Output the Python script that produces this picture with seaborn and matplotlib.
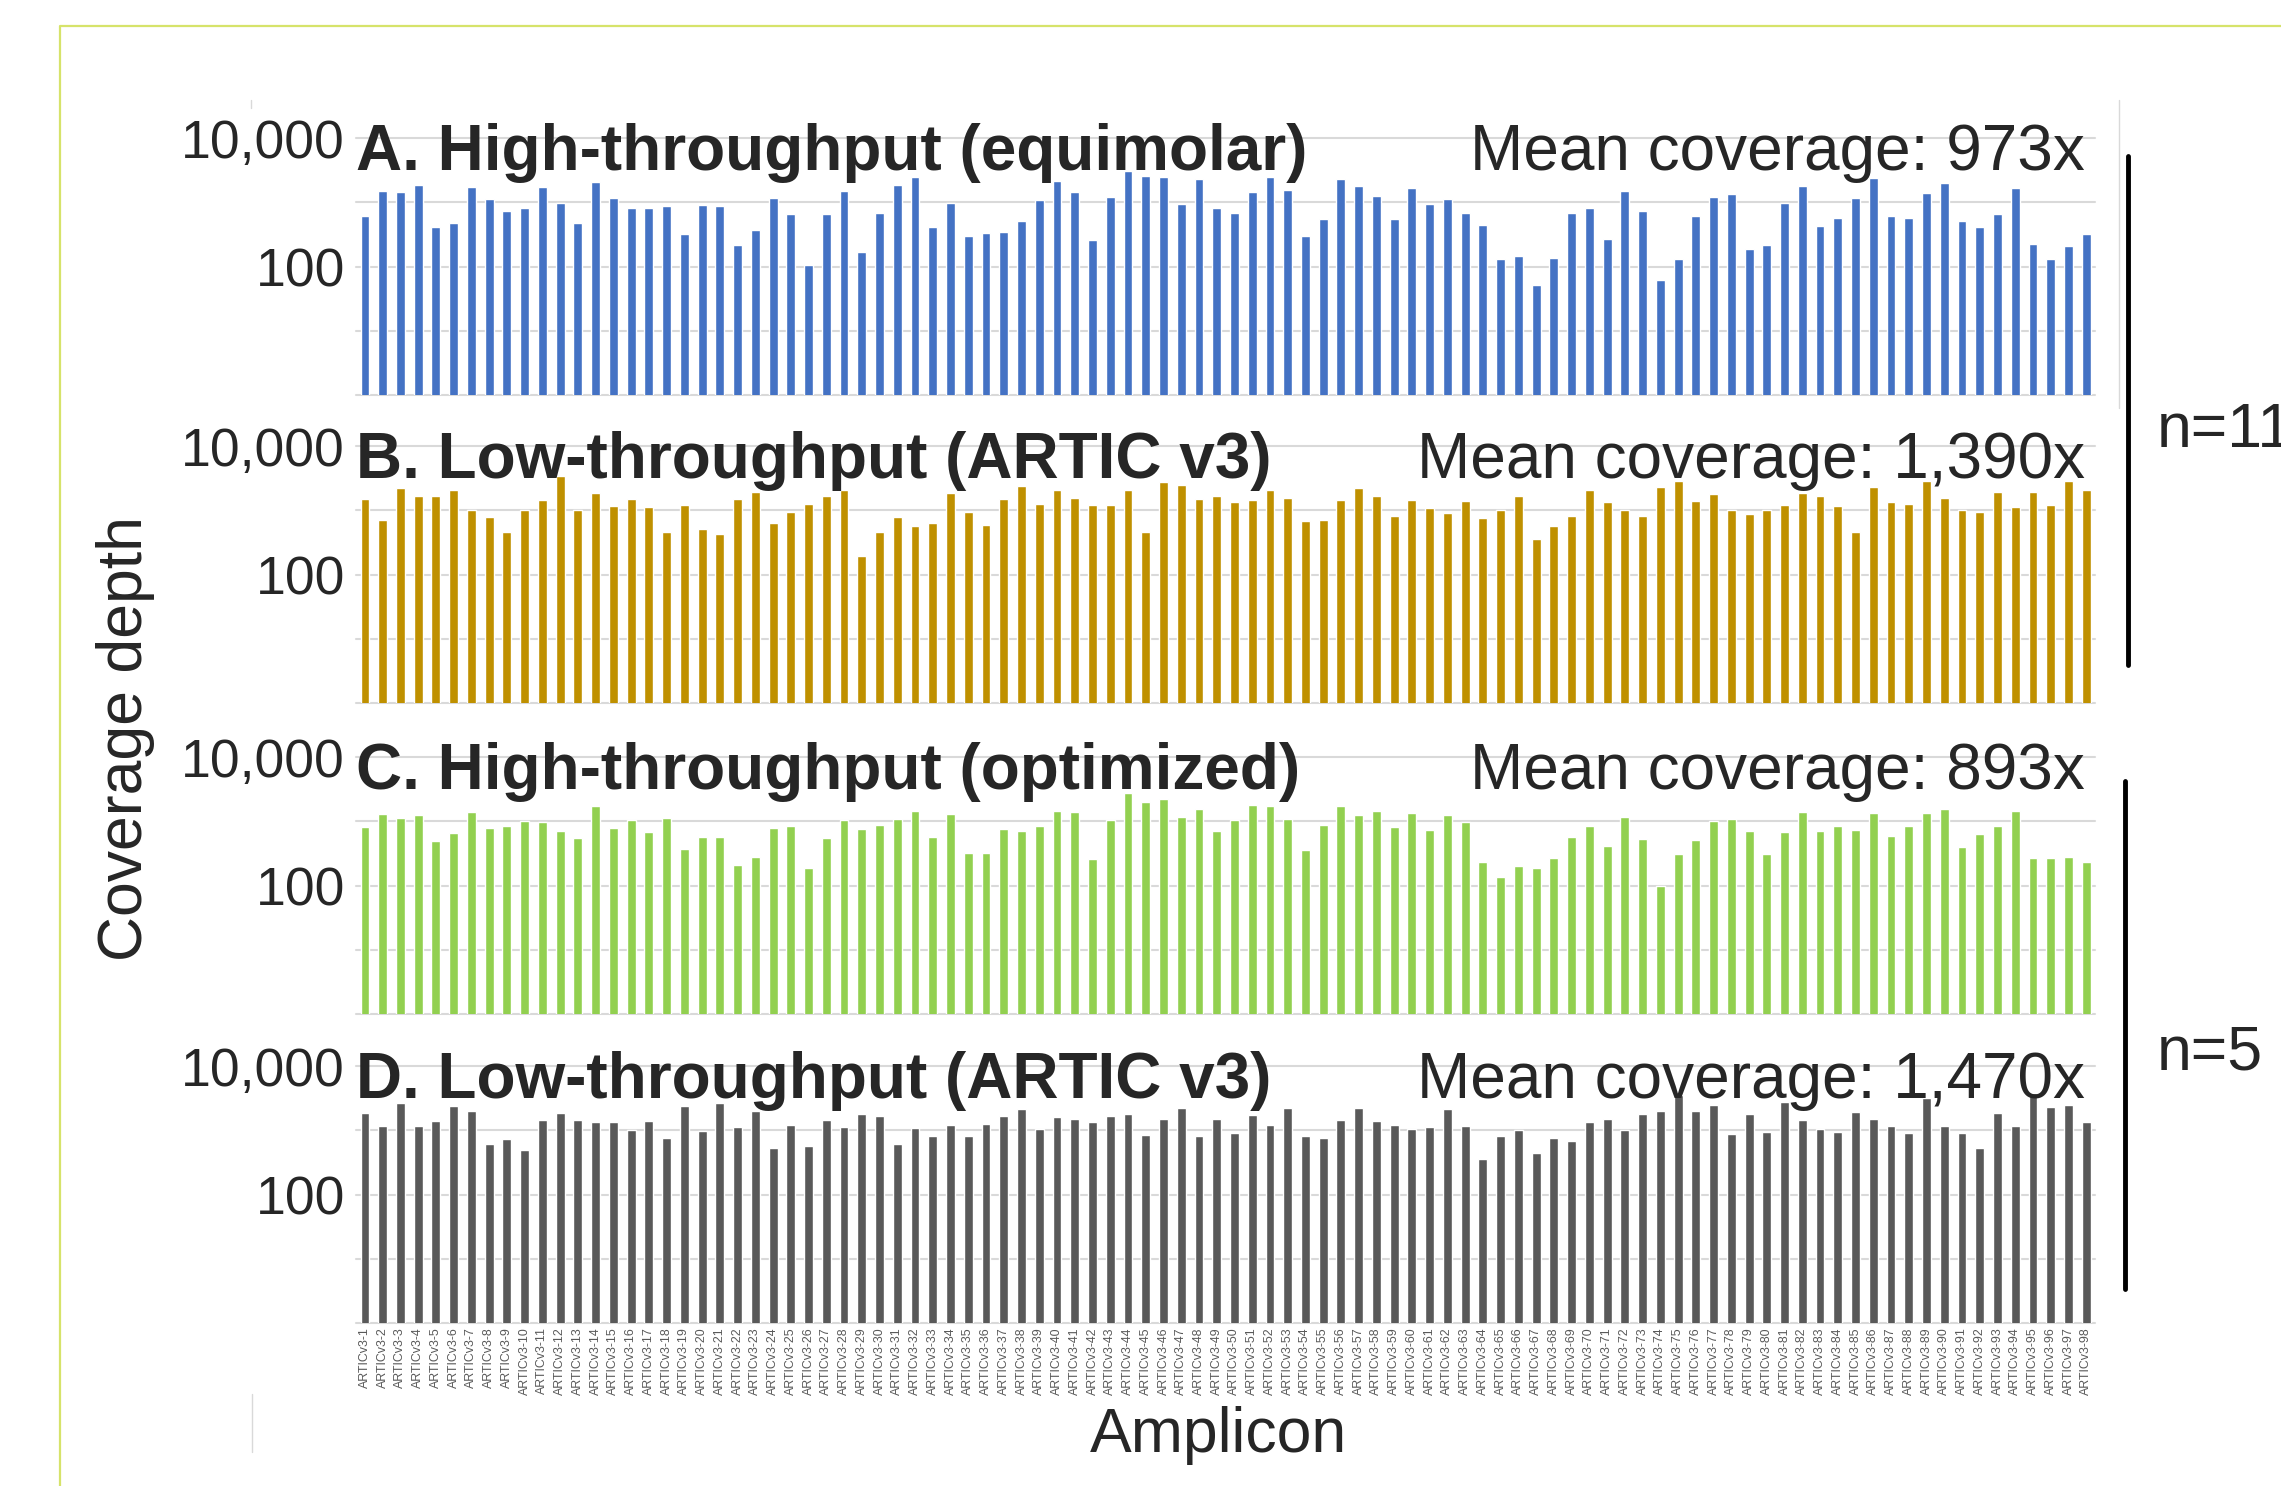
import matplotlib
matplotlib.use("Agg")
import matplotlib.pyplot as plt
from matplotlib.lines import Line2D
from matplotlib.ticker import NullLocator
import numpy as np
import pandas as pd
import seaborn as sns

amplicons = [f"ARTICv3-{i}" for i in range(1, 99)]

# coverage depth per amplicon
depth_a = [620, 1500, 1450, 1860, 410, 480, 1710, 1110, 740, 805,
           1710, 985, 480, 2050, 1170, 805, 805, 875, 317, 910,
           875, 214, 375, 1170, 650, 105, 650, 1500, 166, 675,
           1860, 2480, 410, 985, 303, 329, 340, 505, 1075, 2120,
           1450, 256, 1225, 3070, 2600, 2480, 955, 2280, 805, 675,
           1450, 2480, 1575, 303, 550, 2280, 1775, 1270, 550, 1650,
           955, 1110, 675, 445, 130, 148, 52, 136, 675, 805,
           269, 1500, 740, 61, 130, 620, 1225, 1330, 190, 216,
           985, 1775, 423, 570, 1170, 2390, 620, 570, 1380, 2020,
           505, 410, 650, 1650, 224, 130, 207, 317]

depth_b = [1510, 703, 2210, 1645, 1700, 2110, 995, 800, 462, 995,
           1440, 3365, 1030, 1875, 1175, 1510, 1120, 462, 1220, 521,
           426, 1510, 1940, 645, 950, 1275, 1700, 2110, 198, 462,
           800, 566, 645, 1875, 950, 594, 1510, 2410, 1275, 2110,
           1565, 1220, 1220, 2040, 462, 2715, 2495, 1510, 1645, 1325,
           1440, 2040, 1565, 678, 703, 1440, 2210, 1700, 830, 1440,
           1080, 904, 1390, 764, 995, 1645, 356, 566, 830, 2040,
           1325, 1030, 830, 2295, 2850, 1390, 1785, 995, 871, 995,
           1220, 1875, 1645, 1160, 462, 2295, 1325, 1275, 2850, 1565,
           1030, 950, 1940, 1120, 1940, 1220, 2850, 2040]

depth_c = [817, 1285, 1140, 1240, 489, 659, 1410, 778, 845, 1010,
           964, 716, 557, 1730, 778, 1050, 690, 1140, 367, 578,
           578, 209, 282, 778, 845, 186, 557, 1050, 752, 887,
           1100, 1465, 578, 1285, 318, 318, 752, 716, 845, 1465,
           1410, 260, 1050, 2755, 1970, 2220, 1185, 1540, 716, 1050,
           1815, 1730, 1085, 363, 877, 1730, 1240, 1465, 807, 1350,
           741, 1240, 964, 236, 138, 202, 186, 269, 578, 845,
           414, 1185, 531, 99, 307, 513, 1000, 1085, 716, 307,
           682, 1410, 716, 845, 741, 1350, 598, 845, 1350, 1540,
           394, 628, 845, 1465, 269, 269, 282, 236]

depth_d = [1875, 1175, 2620, 1175, 1390, 2410, 1970, 617, 738, 485,
           1440, 1875, 1440, 1340, 1340, 993, 1390, 764, 2410, 959,
           2620, 1135, 1970, 521, 1220, 573, 1440, 1120, 1785, 1645,
           617, 1080, 802, 1220, 802, 1275, 1645, 2115, 1030, 1585,
           1510, 1340, 1645, 1785, 830, 1510, 2210, 802, 1510, 914,
           1700, 1220, 2210, 802, 764, 1460, 2210, 1390, 1220, 1030,
           1120, 2115, 1175, 360, 802, 993, 441, 764, 678, 1325,
           1510, 993, 1785, 2015, 3490, 2015, 2495, 871, 1785, 948,
           2715, 1440, 1030, 948, 1940, 1510, 1175, 904, 3205, 1175,
           904, 521, 1875, 1175, 3790, 2295, 2495, 1325]

panel_titles = ["A. High-throughput (equimolar)",
                "B. Low-throughput (ARTIC v3)",
                "C. High-throughput (optimized)",
                "D. Low-throughput (ARTIC v3)"]
mean_labels = ["Mean coverage: 973x", "Mean coverage: 1,390x",
               "Mean coverage: 893x", "Mean coverage: 1,470x"]
bar_colors = ["#4472C4", "#BF9000", "#92D050", "#595959"]

sns.set_style("white")
plt.rcParams["font.family"] = ["Liberation Sans", "DejaVu Sans"]

df = pd.DataFrame({
    "amplicon": amplicons * 4,
    "depth": depth_a + depth_b + depth_c + depth_d,
    "panel": np.repeat(panel_titles, len(amplicons)),
})

fig = plt.figure(figsize=(22.81, 14.86), dpi=100)
bottoms = [0.7342, 0.5269, 0.3176, 0.1097]

for i, (title, mean_txt, color, bottom) in enumerate(
        zip(panel_titles, mean_labels, bar_colors, bottoms)):
    ax = fig.add_axes([0.1561, bottom, 0.7624, 0.1729])
    ax.set_yscale("log")
    sub = df[df["panel"] == title]
    sns.barplot(data=sub, x="amplicon", y="depth", color=color,
                saturation=1, width=0.5, errorbar=None, ax=ax, zorder=2)
    ax.set_ylim(1, 10000)
    ax.set_xlim(-0.5, 97.5)
    for level in [1, 10, 100, 1000, 10000]:
        ax.axhline(level, color="#d9d9d9", lw=1.5, zorder=0, clip_on=False)
    ax.set_yticks([100, 10000])
    ax.set_yticklabels(["100", "10,000"])
    ax.yaxis.set_minor_locator(NullLocator())
    ax.tick_params(axis="y", length=0, pad=8, labelsize=38.5)
    sns.despine(ax=ax, left=True, bottom=True)
    ax.set_xlabel("")
    ax.set_ylabel("")
    if i < 3:
        ax.set_xticklabels([])
        ax.tick_params(axis="x", length=0)
    else:
        ax.tick_params(axis="x", labelrotation=90, labelsize=8.9,
                       labelcolor="#595959", length=0, pad=3)
    ax.text(0.0, 0.8755, title, transform=ax.transAxes, fontsize=46,
            fontweight="bold", ha="left", va="baseline", zorder=5)
    ax.text(0.994, 0.8755, mean_txt, transform=ax.transAxes, fontsize=46,
            ha="right", va="baseline", zorder=5)

fig.text(0.0552, 0.503, "Coverage depth", rotation=90, fontsize=45,
         ha="center", va="center")
fig.text(0.534, 0.0229, "Amplicon", fontsize=45, ha="center", va="baseline")
# the reference itself runs "n=11" off the right edge
fig.text(0.9456, 0.699, "n=11", fontsize=45, ha="left", va="baseline")
fig.text(0.9456, 0.2806, "n=5", fontsize=45, ha="left", va="baseline")

# brackets, frame and small leftover strokes
fig.add_artist(Line2D([0.9329, 0.9329], [0.895, 0.5525], color="black",
                      lw=3.5, transform=fig.transFigure))
fig.add_artist(Line2D([0.9316, 0.9316], [0.4744, 0.1326], color="black",
                      lw=3.5, transform=fig.transFigure))
fig.add_artist(Line2D([0.0263, 0.0263, 1.0], [0.0, 0.9825, 0.9825],
                      color="#d6e36a", lw=1.6, transform=fig.transFigure))
fig.add_artist(Line2D([0.929, 0.929], [0.9327, 0.7254], color="#d9d9d9",
                      lw=1.0, transform=fig.transFigure))
fig.add_artist(Line2D([0.110, 0.110], [0.9327, 0.9273], color="#d9d9d9",
                      lw=1.0, transform=fig.transFigure))
fig.add_artist(Line2D([0.1105, 0.1105], [0.0619, 0.0229], color="#d9d9d9",
                      lw=1.0, transform=fig.transFigure))

fig.savefig("out.png", dpi=100)
